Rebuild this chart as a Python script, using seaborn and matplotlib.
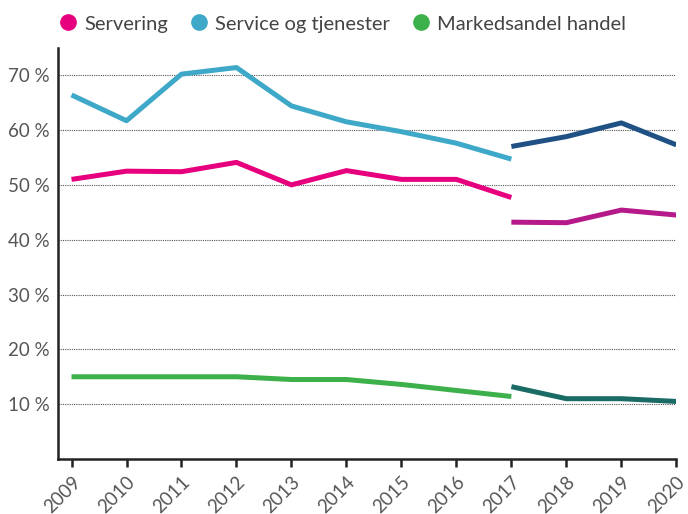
import matplotlib.pyplot as plt
import matplotlib.ticker as mticker
from matplotlib.lines import Line2D
import pandas as pd
import seaborn as sns

# data (percent)
years_a = [2009, 2010, 2011, 2012, 2013, 2014, 2015, 2016, 2017]
years_b = [2017, 2018, 2019, 2020]

servering_a = [51.0, 52.5, 52.4, 54.1, 50.0, 52.6, 51.0, 51.0, 47.7]
service_a = [66.4, 61.7, 70.2, 71.4, 64.4, 61.5, 59.7, 57.6, 54.7]
handel_a = [15.0, 15.0, 15.0, 15.0, 14.5, 14.5, 13.6, 12.5, 11.4]

servering_b = [43.2, 43.1, 45.4, 44.5]
service_b = [57.0, 58.8, 61.3, 57.3]
handel_b = [13.2, 11.0, 11.0, 10.5]

series_names = ["Servering", "Service og tjenester", "Markedsandel handel"]
colors_a = ["#e6007e", "#3ea8c8", "#3cb04a"]
colors_b = ["#b5198a", "#1f5185", "#1a6a65"]

ytick_vals = [10, 20, 30, 40, 50, 60, 70]
xtick_vals = list(range(2009, 2021))

sns.set_style("white")
plt.rcParams['font.family'] = ['Lato', 'DejaVu Sans']

fig = plt.figure(figsize=(6.88, 5.14), dpi=100)
ax = fig.add_axes([0.084, 0.107, 0.899, 0.80])

segments = [
    (years_a, [servering_a, service_a, handel_a], colors_a),
    (years_b, [servering_b, service_b, handel_b], colors_b),
]
for yrs, vals, cols in segments:
    for name, v, c in zip(series_names, vals, cols):
        d = pd.DataFrame({'year': yrs, 'value': v})
        sns.lineplot(data=d, x='year', y='value', color=c, linewidth=3.6,
                     ax=ax, legend=False, solid_capstyle='butt')

ax.set_xlim(2008.75, 2020)
ax.set_ylim(0, 75)
ax.set_yticks(ytick_vals)
ax.yaxis.set_major_formatter(mticker.FuncFormatter(lambda v, p: f"{int(v)} %"))
ax.set_xticks(xtick_vals)
ax.set_xticklabels([str(x) for x in xtick_vals], rotation=45, ha='right',
                   rotation_mode='anchor')
ax.set_xlabel("")
ax.set_ylabel("")

for y in ytick_vals:
    ax.axhline(y, color='#555555', linewidth=0.8, linestyle=(0, (1, 1)), zorder=0)

for s in ['top', 'right']:
    ax.spines[s].set_visible(False)
for s in ['left', 'bottom']:
    ax.spines[s].set_color('#222222')
    ax.spines[s].set_linewidth(1.8)

ax.tick_params(axis='y', length=0, labelsize=13.5, labelcolor='#555555', pad=6)
ax.tick_params(axis='x', length=6, width=1.8, color='#222222', labelsize=13.5,
               labelcolor='#555555', direction='out', bottom=True, pad=4)

handles = [Line2D([0], [0], marker='o', linestyle='', markersize=11,
                  markerfacecolor=c, markeredgecolor=c) for c in colors_a]
fig.legend(handles, series_names, loc='upper left', bbox_to_anchor=(0.084, 0.97),
           ncol=3, frameon=False, fontsize=14.5, labelcolor='#444444',
           handlelength=1.0, handletextpad=0.3, columnspacing=1.05,
           borderpad=0, borderaxespad=0)

fig.savefig('out.png', dpi=100)
